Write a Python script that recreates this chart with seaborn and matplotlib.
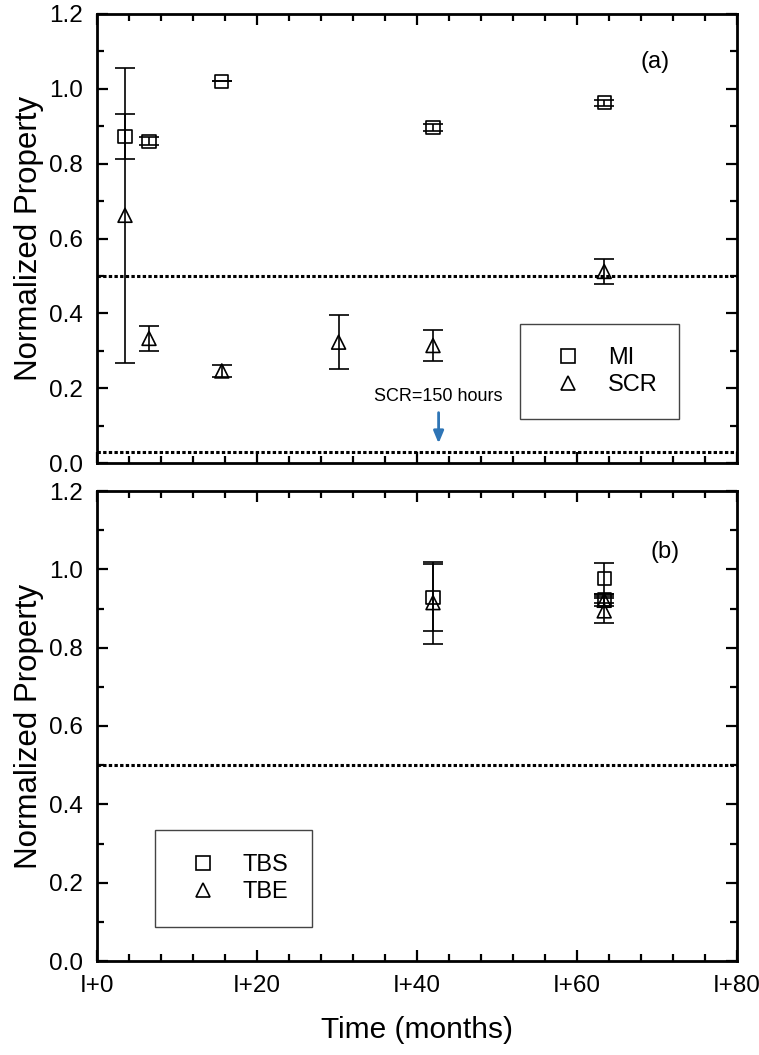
import matplotlib
matplotlib.use("Agg")
import matplotlib.pyplot as plt
import seaborn as sns
import pandas as pd
from matplotlib.lines import Line2D
from matplotlib.patches import Rectangle
from matplotlib.ticker import MultipleLocator, FixedLocator, FixedFormatter

# ---------------- data ----------------
# Panel (a)
mi_time = [3.5, 6.5, 15.6, 42.0, 63.4]
mi_value = [0.873, 0.860, 1.020, 0.896, 0.963]
mi_error = [0.060, 0.010, 0.000, 0.010, 0.008]
scr_time = [3.5, 6.5, 15.6, 30.2, 42.0, 63.4]
scr_value = [0.662, 0.333, 0.246, 0.323, 0.314, 0.512]
scr_error = [0.395, 0.033, 0.015, 0.072, 0.041, 0.034]
# Panel (b)
tbs_time = [42.0, 63.4, 63.4]
tbs_value = [0.928, 0.976, 0.923]
tbs_error = [0.085, 0.040, 0.010]
tbe_time = [42.0, 63.4, 63.4]
tbe_value = [0.915, 0.921, 0.894]
tbe_error = [0.105, 0.015, 0.032]

hlines_a = [0.5, 0.03]
hlines_b = [0.5]
x_ticks = [0, 20, 40, 60, 80]
x_tick_labels = ["I+0", "I+20", "I+40", "I+60", "I+80"]
y_ticks = [0.0, 0.2, 0.4, 0.6, 0.8, 1.0, 1.2]
y_tick_labels = ["0.0", "0.2", "0.4", "0.6", "0.8", "1.0", "1.2"]
arrow_time = 42.7
arrow_text = "SCR=150 hours"

# ---------------- style ----------------
sns.set_theme(style="ticks")
plt.rcParams["font.family"] = ["Liberation Sans", "DejaVu Sans"]
plt.rcParams["text.color"] = "black"
plt.rcParams["axes.labelcolor"] = "black"
plt.rcParams["xtick.color"] = "black"
plt.rcParams["ytick.color"] = "black"
plt.rcParams["axes.linewidth"] = 2.0

W, H = 759, 1055
fig = plt.figure(figsize=(W / 100, H / 100), dpi=100)


def rect(left, top, right, bottom):
    return [left / W, 1 - bottom / H, (right - left) / W, (bottom - top) / H]


AX_A_PX = (97, 14, 737, 463)
AX_B_PX = (97, 491, 737, 961)
ax_a = fig.add_axes(rect(*AX_A_PX))
ax_b = fig.add_axes(rect(*AX_B_PX))

SQ = 88
TR = 100
ERR_KW = dict(fmt="none", ecolor="black", elinewidth=1.2, capsize=7, capthick=1.2, zorder=2)


def draw_series(ax, t, v, e, marker, size):
    ax.errorbar(t, v, yerr=e, **ERR_KW)
    df = pd.DataFrame({"t": t, "v": v})
    sns.scatterplot(data=df, x="t", y="v", marker=marker, s=size, facecolors="none",
                    edgecolor="black", linewidth=1.2, ax=ax, zorder=3, legend=False)


draw_series(ax_a, mi_time, mi_value, mi_error, "s", SQ)
draw_series(ax_a, scr_time, scr_value, scr_error, "^", TR)
draw_series(ax_b, tbs_time, tbs_value, tbs_error, "s", SQ)
draw_series(ax_b, tbe_time, tbe_value, tbe_error, "^", TR)

for ax, hl in ((ax_a, hlines_a), (ax_b, hlines_b)):
    for yv in hl:
        ax.axhline(yv, color="black", lw=2.2, ls=(0, (1.1, 0.75)), zorder=1)
    ax.set_xlim(0, 80)
    ax.set_ylim(0, 1.2)
    ax.xaxis.set_major_locator(FixedLocator(x_ticks))
    ax.xaxis.set_minor_locator(MultipleLocator(4))
    ax.yaxis.set_major_locator(FixedLocator(y_ticks))
    ax.yaxis.set_major_formatter(FixedFormatter(y_tick_labels))
    ax.yaxis.set_minor_locator(MultipleLocator(0.1))
    ax.tick_params(which="both", direction="in", top=True, right=True, width=1.6, color="black")
    ax.tick_params(which="major", length=8, labelsize=17.5, pad=10)
    ax.tick_params(which="minor", length=5)
    for s in ax.spines.values():
        s.set_color("black")
        s.set_linewidth(2.0)
    ax.set_ylabel("Normalized Property", fontsize=22.5)
    ax.yaxis.set_label_coords(-0.083, 0.5)

ax_a.set_xlabel("")
ax_a.set_xticklabels([])
ax_b.xaxis.set_major_formatter(FixedFormatter(x_tick_labels))
ax_b.set_xlabel("Time (months)", fontsize=21.5, labelpad=14)

# panel labels
ax_a.text(0.872, 0.894, "(a)", transform=ax_a.transAxes, fontsize=17, ha="center", va="center")
ax_b.text(0.8875, 0.871, "(b)", transform=ax_b.transAxes, fontsize=17, ha="center", va="center")

# annotation arrow
ax_a.annotate("", xy=(arrow_time, 0.045), xytext=(arrow_time, 0.142),
              arrowprops=dict(arrowstyle="-|>,head_length=0.6,head_width=0.25", color="#2E75B6", lw=2))
ax_a.text(arrow_time, 0.155, arrow_text, fontsize=13, ha="center", va="bottom")


# legends (box drawn as a fixed rectangle, pixel-placed)
def legend_box(ax, axpx, boxpx, labels):
    l, t, r, b = axpx
    bl, bt, br, bb = boxpx
    fx = lambda px: (px - l) / (r - l)
    fy = lambda py: (b - py) / (b - t)
    ax.add_patch(Rectangle((fx(bl), fy(bb)), fx(br) - fx(bl), fy(bt) - fy(bb),
                           transform=ax.transAxes, fill=False, ec="#444444", lw=1.0, zorder=4))
    handles = [Line2D([], [], ls="none", marker="s", ms=9.4, mfc="none", mec="black", mew=1.2),
               Line2D([], [], ls="none", marker="^", ms=10, mfc="none", mec="black", mew=1.2)]
    ax.legend(handles, labels, loc="center left",
              bbox_to_anchor=(fx(bl + 36), fy((bt + bb) / 2)), frameon=False, fontsize=17,
              handlelength=1.0, handletextpad=1.2, borderpad=0, borderaxespad=0,
              labelspacing=0.22)


legend_box(ax_a, AX_A_PX, (520, 324, 679, 419), ["MI", "SCR"])
legend_box(ax_b, AX_B_PX, (155, 830, 312, 927), ["TBS", "TBE"])

fig.savefig("out.png", dpi=100)
